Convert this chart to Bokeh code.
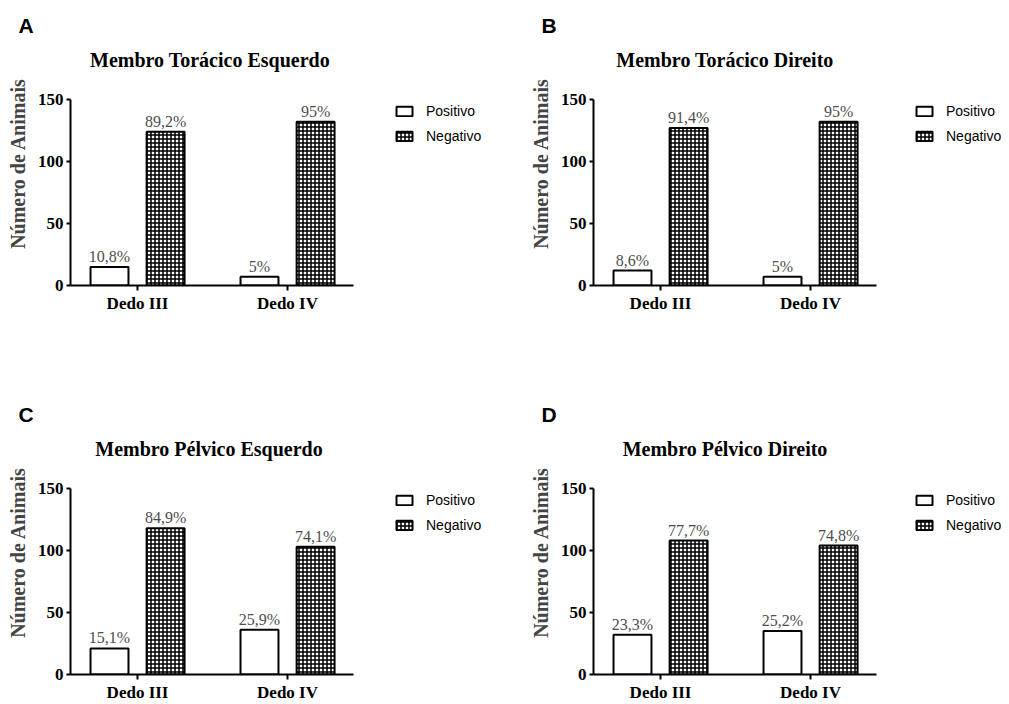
import numpy as np
from bokeh.plotting import figure
from bokeh.models import (ColumnDataSource, Range1d, FixedTicker, Label, Legend, LegendItem)
from bokeh.transform import dodge
from bokeh.layouts import column, row
from bokeh.core.properties import value
from bokeh.embed import file_html
from bokeh.resources import INLINE

# ---------------- data ----------------
categories = ["Dedo III", "Dedo IV"]
series_names = ["Positivo", "Negativo"]
y_ticks = [0, 50, 100, 150]
y_max = 150

titles = ["Membro Torácico Esquerdo", "Membro Torácico Direito",
          "Membro Pélvico Esquerdo", "Membro Pélvico Direito"]
letters = ["A", "B", "C", "D"]

positivo_A = [15, 7]
negativo_A = [124, 132]
pct_pos_A = ["10,8%", "5%"]
pct_neg_A = ["89,2%", "95%"]

positivo_B = [12, 7]
negativo_B = [127, 132]
pct_pos_B = ["8,6%", "5%"]
pct_neg_B = ["91,4%", "95%"]

positivo_C = [21, 36]
negativo_C = [118, 103]
pct_pos_C = ["15,1%", "25,9%"]
pct_neg_C = ["84,9%", "74,1%"]

positivo_D = [32, 35]
negativo_D = [108, 104]
pct_pos_D = ["23,3%", "25,2%"]
pct_neg_D = ["77,7%", "74,8%"]

# ---------------- style / layout ----------------
SERIF = "Liberation Serif"
SANS = "Liberation Sans"
DATA_W = 283          # px width of the plotted (axis) area
DATA_H = 186          # px height of the 0..150 axis
EXTRA_TOP = 58        # frame space above the axis for the title
TOP_BORDER = 41       # space above the frame for the panel letter
ROW_H = 389
PX_PER_CAT = 150
BAR_W = 0.253
OFFSET = 0.187
PCT_COLOR = "#4d4d4d"


def make_panel(letter, title, pos, neg, pct_pos, pct_neg,
               left, fig_w, bottom, title_dx, legend_dx):
    x = np.arange(1, len(categories) + 1)
    src = ColumnDataSource(dict(x=x, pos=pos, neg=neg,
                                pct_pos=pct_pos, pct_neg=pct_neg))
    frame_w = fig_w - left
    frame_h = DATA_H + EXTRA_TOP
    x0 = x[0] - 0.447
    p = figure(frame_width=frame_w, frame_height=frame_h,
               x_range=Range1d(x0, x0 + frame_w / PX_PER_CAT),
               y_range=Range1d(0, y_max * frame_h / DATA_H),
               output_backend="svg", toolbar_location=None,
               min_border_left=left, min_border_right=0,
               min_border_top=TOP_BORDER, min_border_bottom=bottom,
               background_fill_color="white", border_fill_color="white")
    p.outline_line_color = None
    p.xgrid.visible = False
    p.ygrid.visible = False

    r_pos = p.vbar(x=dodge("x", -OFFSET), top="pos", width=BAR_W, source=src,
                   fill_color="white", line_color="black", line_width=2)
    r_neg = p.vbar(x=dodge("x", OFFSET), top="neg", width=BAR_W, source=src,
                   fill_color="white", line_color="black", line_width=2,
                   hatch_pattern="cross", hatch_color="black",
                   hatch_scale=4, hatch_weight=1.5)

    for col, off in (("pct_pos", -OFFSET), ("pct_neg", OFFSET)):
        p.text(x=dodge("x", off), y=col.replace("pct_", ""), text=col, source=src,
               text_font=value(SERIF), text_font_size="16px",
               text_color=PCT_COLOR, text_align="center",
               text_baseline="bottom", y_offset=-2)

    # axes
    for ax in (p.xaxis[0], p.yaxis[0]):
        ax.axis_line_width = 2
        ax.axis_line_color = "black"
        ax.major_tick_line_width = 2
        ax.major_tick_in = 0
        ax.minor_tick_line_color = None
        ax.major_label_text_font = SERIF
        ax.major_label_text_font_style = "bold"
        ax.major_label_text_font_size = "17px"
        ax.major_label_text_color = "black"
    p.xaxis.bounds = (x0, x0 + DATA_W / PX_PER_CAT)
    p.xaxis.ticker = FixedTicker(ticks=list(x))
    p.xaxis.major_label_overrides = {int(i): c for i, c in zip(x, categories)}
    p.xaxis.major_tick_out = 5
    p.xaxis.major_label_standoff = 3
    p.yaxis.bounds = (0, y_max)
    p.yaxis.ticker = FixedTicker(ticks=y_ticks)
    p.yaxis.major_tick_out = 4
    p.yaxis.major_label_standoff = 3
    p.yaxis.axis_label = "Número de Animais"
    p.yaxis.axis_label_text_font = SERIF
    p.yaxis.axis_label_text_font_style = "bold"
    p.yaxis.axis_label_text_font_size = "20px"
    p.yaxis.axis_label_standoff = 6

    # panel letter in the title slot (above the frame)
    p.title.text = letter
    p.title.align = "left"
    p.title.offset = -52
    p.title.standoff = 9
    p.title.text_font = SANS
    p.title.text_font_style = "bold"
    p.title.text_font_size = "21px"
    p.title.text_color = "black"

    # chart title inside the (extended) frame
    p.add_layout(Label(x=DATA_W / 2 + title_dx, y=DATA_H + 40,
                       x_units="screen", y_units="screen", text=title,
                       text_font=SERIF, text_font_style="bold",
                       text_font_size="20px", text_align="center",
                       text_baseline="alphabetic", text_color="black"))

    legend = Legend(items=[LegendItem(label=series_names[0], renderers=[r_pos]),
                           LegendItem(label=series_names[1], renderers=[r_neg])],
                    location=(DATA_W + legend_dx, DATA_H - 45), padding=0, margin=0,
                    spacing=9, glyph_width=20, glyph_height=12,
                    label_height=15, label_standoff=12,
                    label_text_font=SANS, label_text_font_size="14px",
                    label_text_color="black",
                    border_line_color=None, background_fill_alpha=0)
    p.add_layout(legend, "center")
    return p


W_LEFT = 500
W_RIGHT = 501
B1 = ROW_H - TOP_BORDER - DATA_H - EXTRA_TOP

pa = make_panel(letters[0], titles[0], positivo_A, negativo_A, pct_pos_A, pct_neg_A,
                left=70, fig_w=W_LEFT, bottom=B1, title_dx=-2, legend_dx=41)
pb = make_panel(letters[1], titles[1], positivo_B, negativo_B, pct_pos_B, pct_neg_B,
                left=93, fig_w=W_RIGHT, bottom=B1, title_dx=-10, legend_dx=38)
pc = make_panel(letters[2], titles[2], positivo_C, negativo_C, pct_pos_C, pct_neg_C,
                left=70, fig_w=W_LEFT, bottom=0, title_dx=-3, legend_dx=41)
pd_ = make_panel(letters[3], titles[3], positivo_D, negativo_D, pct_pos_D, pct_neg_D,
                 left=93, fig_w=W_RIGHT, bottom=0, title_dx=-10, legend_dx=38)

layout = column(row(pa, pb), row(pc, pd_))
open("out.html", "w").write(file_html(layout, INLINE))
